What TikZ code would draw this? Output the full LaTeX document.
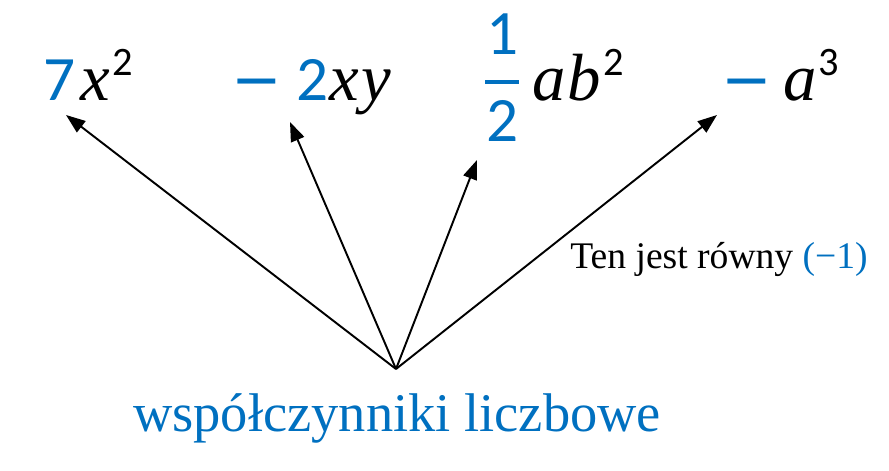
\documentclass[tikz,border=0pt]{standalone}
\usepackage{fontspec}
\setmainfont{Liberation Serif}
\newfontfamily\numfont{Carlito}
\newfontfamily\minusfont{DejaVu Sans}
\usetikzlibrary{arrows.meta}
\definecolor{coef}{RGB}{0,112,192}
% pieces of the terms
\newcommand{\cf}[1]{{\color{coef}\numfont\fontsize{36}{40}\selectfont #1}}
\newcommand{\vr}[1]{{\itshape\fontsize{38}{42}\selectfont #1}}
\newcommand{\pw}[1]{\raisebox{0.5cm}{\numfont\fontsize{23}{26}\selectfont #1}}
\newcommand{\mn}{{\color{coef}\minusfont\fontsize{34.4}{38}\selectfont\char"2212}}
\newcommand{\fr}[2]{\raisebox{-23.8pt}{\color{coef}\vbox{%
  \hbox to 19.3pt{\hss\cf{#1}\hss}\kern14.2pt\hrule height 2.4pt\kern9.7pt
  \hbox to 19.3pt{\hss\cf{#2}\hss}}}}
\begin{document}
\begin{tikzpicture}[x=0.02cm,y=-0.02cm,
    term/.style={inner sep=0pt,anchor=base west},
    note/.style={inner sep=0pt,font=\fontsize{21.4}{24}\selectfont},
    coefname/.style={inner sep=0pt,text=coef,font=\fontsize{31}{36}\selectfont}]
  \useasboundingbox (0,0) rectangle (889,470);
  \node[term] (t1) at (43,100) {\cf{7}\hspace{3pt}\vr{x}\hspace{1pt}\pw{2}};
  \node[term] (t2) at (231,100) {\mn\hspace{8pt}\cf{2}\hspace{1pt}\vr{x}\hspace{1pt}\vr{y}};
  \node[term] (t3) at (485,100) {\fr{1}{2}\hspace{7.5pt}\vr{a}\hspace{1pt}\vr{b}\hspace{1.5pt}\pw{2}};
  \node[term] (t4) at (721,100) {\mn\hspace{6.5pt}\vr{a}\hspace{1pt}\pw{3}};
  \node[note,anchor=base west] (ten) at (570,268) {Ten jest równy \textcolor{coef}{(−1)}};
  \node[coefname,anchor=base] (wsp) at (397,431) {współczynniki liczbowe};
  \coordinate (c) at (396,369);
  \coordinate (e1) at (66,115);
  \coordinate (e2) at (290,122);
  \coordinate (e3) at (477,160);
  \coordinate (e4) at (717,115);
  \begin{scope}[line width=1.1pt,-{Triangle[length=11pt,width=8pt]}]
    \draw (c) to (e1);
    \draw (c) to (e2);
    \draw (c) to (e3);
    \draw (c) to (e4);
  \end{scope}
\end{tikzpicture}
\end{document}
